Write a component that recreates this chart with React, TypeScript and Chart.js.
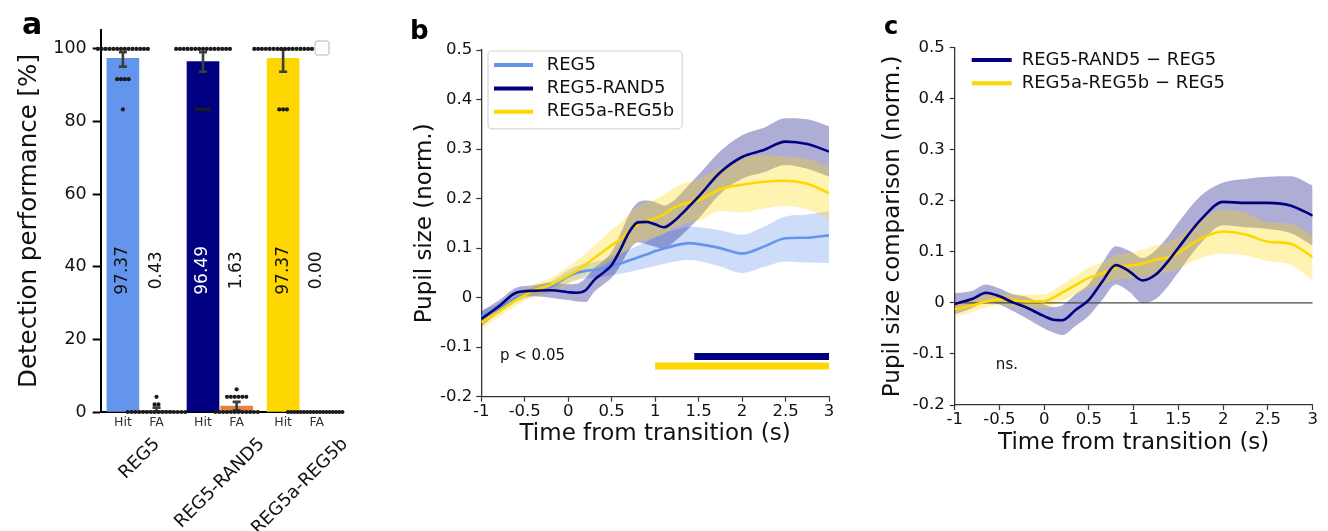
import React, { useEffect, useRef } from 'react';
import { Chart, registerables } from 'chart.js';

Chart.register(...registerables);

const FONT = "'DejaVu Sans', 'Liberation Sans', Arial, sans-serif";
Chart.defaults.font.family = FONT;
Chart.defaults.color = '#111';

// ---------------- Panel a : detection performance ----------------
const GROUPS = ['REG5', 'REG5-RAND5', 'REG5a-REG5b'];
const MEASURE_LABELS = ['Hit', 'FA'];
const HIT_MEAN = [97.37, 96.49, 97.37];
const FA_MEAN = [0.43, 1.63, 0.0];
const HIT_CI_LOW = [95.1, 93.7, 93.7];
const HIT_CI_HIGH = [99.1, 99.1, 99.9];
const FA_CI_LOW = [0.0, 0.5, 0.0];
const FA_CI_HIGH = [1.2, 2.8, 0.0];
const HIT_REG5 = [100, 100, 100, 100, 100, 100, 100, 100, 100, 100, 100, 100, 100, 100, 91.67, 91.67, 91.67, 91.67, 83.33];
const HIT_REG5_RAND5 = [100, 100, 100, 100, 100, 100, 100, 100, 100, 100, 100, 100, 100, 100, 100, 83.33, 83.33, 83.33, 83.33];
const HIT_REG5A_REG5B = [100, 100, 100, 100, 100, 100, 100, 100, 100, 100, 100, 100, 100, 100, 100, 100, 83.33, 83.33, 83.33];
const FA_REG5 = [4.17, 2.08, 2.08, 0, 0, 0, 0, 0, 0, 0, 0, 0, 0, 0, 0, 0, 0, 0, 0];
const FA_REG5_RAND5 = [6.25, 4.17, 4.17, 4.17, 4.17, 4.17, 4.17, 0, 0, 0, 0, 0, 0, 0, 0, 0, 0, 0, 0];
const FA_REG5A_REG5B = [0, 0, 0, 0, 0, 0, 0, 0, 0, 0, 0, 0, 0, 0, 0, 0, 0, 0, 0];
const HIT_SUBJECTS = [HIT_REG5, HIT_REG5_RAND5, HIT_REG5A_REG5B];
const FA_SUBJECTS = [FA_REG5, FA_REG5_RAND5, FA_REG5A_REG5B];
const A_Y_TICKS = [0, 20, 40, 60, 80, 100];

// ---------------- Panel b : pupil size ----------------
const B_X = [-1, -0.8, -0.6, -0.4, -0.2, 0, 0.1, 0.2, 0.3, 0.4, 0.5, 0.6, 0.7, 0.8, 0.9, 1, 1.1, 1.2, 1.3, 1.4, 1.5, 1.75, 2, 2.25, 2.5, 2.75, 3];
const B_REG5 = [-0.038, -0.022, 0.0, 0.012, 0.022, 0.043, 0.05, 0.054, 0.056, 0.059, 0.064, 0.069, 0.075, 0.081, 0.087, 0.094, 0.099, 0.104, 0.108, 0.11, 0.108, 0.1, 0.089, 0.103, 0.12, 0.121, 0.126];
const B_REG5_LO = [-0.05, -0.032, -0.009, 0.003, 0.011, 0.03, 0.036, 0.039, 0.04, 0.042, 0.045, 0.048, 0.052, 0.056, 0.06, 0.064, 0.068, 0.072, 0.075, 0.076, 0.074, 0.063, 0.05, 0.062, 0.073, 0.071, 0.07];
const B_REG5_HI = [-0.026, -0.012, 0.009, 0.021, 0.033, 0.056, 0.064, 0.069, 0.072, 0.076, 0.083, 0.09, 0.097, 0.105, 0.113, 0.122, 0.13, 0.136, 0.14, 0.143, 0.142, 0.136, 0.127, 0.143, 0.164, 0.168, 0.175];
const B_RAND = [-0.043, -0.018, 0.01, 0.014, 0.015, 0.011, 0.01, 0.015, 0.036, 0.05, 0.066, 0.097, 0.132, 0.152, 0.153, 0.148, 0.142, 0.152, 0.168, 0.186, 0.204, 0.253, 0.284, 0.298, 0.315, 0.31, 0.295];
const B_RAND_LO = [-0.058, -0.03, 0.0, 0.003, 0.0, -0.005, -0.008, -0.009, 0.012, 0.026, 0.04, 0.065, 0.096, 0.112, 0.108, 0.103, 0.098, 0.11, 0.125, 0.142, 0.16, 0.21, 0.24, 0.253, 0.268, 0.26, 0.244];
const B_RAND_HI = [-0.028, -0.006, 0.02, 0.025, 0.03, 0.027, 0.028, 0.039, 0.06, 0.074, 0.092, 0.129, 0.168, 0.192, 0.196, 0.193, 0.186, 0.194, 0.211, 0.23, 0.248, 0.296, 0.328, 0.343, 0.362, 0.36, 0.346];
const B_AB = [-0.05, -0.028, -0.005, 0.014, 0.026, 0.045, 0.055, 0.067, 0.08, 0.093, 0.106, 0.118, 0.135, 0.148, 0.155, 0.16, 0.168, 0.18, 0.188, 0.193, 0.197, 0.219, 0.228, 0.234, 0.236, 0.23, 0.211];
const B_AB_LO = [-0.063, -0.04, -0.016, 0.002, 0.012, 0.027, 0.035, 0.045, 0.055, 0.066, 0.075, 0.086, 0.1, 0.112, 0.118, 0.122, 0.128, 0.14, 0.147, 0.152, 0.155, 0.175, 0.172, 0.18, 0.185, 0.178, 0.158];
const B_AB_HI = [-0.037, -0.016, 0.006, 0.026, 0.04, 0.063, 0.075, 0.089, 0.105, 0.12, 0.137, 0.15, 0.17, 0.184, 0.192, 0.198, 0.208, 0.22, 0.229, 0.234, 0.239, 0.263, 0.282, 0.288, 0.285, 0.28, 0.264];
const B_SIG_RAND = [1.45, 3];
const B_SIG_RAND_Y = -0.119;
const B_SIG_AB = [1.0, 3];
const B_SIG_AB_Y = -0.138;
const B_LEGEND = ['REG5', 'REG5-RAND5', 'REG5a-REG5b'];
const Y_TICKS = [-0.2, -0.1, 0, 0.1, 0.2, 0.3, 0.4, 0.5];
const Y_LABELS = ['-0.2', '-0.1', '0', '0.1', '0.2', '0.3', '0.4', '0.5'];
const X_TICKS = [-1, -0.5, 0, 0.5, 1, 1.5, 2, 2.5, 3];
const X_LABELS = ['-1', '-0.5', '0', '0.5', '1', '1.5', '2', '2.5', '3'];

// ---------------- Panel c : comparison ----------------
const C_X = [-1, -0.8, -0.65, -0.5, -0.35, -0.2, 0, 0.1, 0.2, 0.35, 0.5, 0.65, 0.8, 0.95, 1.1, 1.25, 1.4, 1.5, 1.75, 2, 2.25, 2.5, 2.75, 3];
const C_RAND = [-0.002, 0.008, 0.02, 0.013, 0.001, -0.009, -0.026, -0.033, -0.034, -0.014, 0.006, 0.042, 0.074, 0.062, 0.044, 0.056, 0.085, 0.108, 0.163, 0.198, 0.196, 0.196, 0.191, 0.171];
const C_RAND_LO = [-0.022, -0.01, 0.003, -0.003, -0.016, -0.03, -0.05, -0.058, -0.063, -0.045, -0.025, 0.006, 0.036, 0.022, 0.0, 0.008, 0.036, 0.06, 0.117, 0.152, 0.148, 0.145, 0.137, 0.112];
const C_RAND_HI = [0.019, 0.024, 0.036, 0.028, 0.017, 0.012, -0.003, -0.008, -0.005, 0.017, 0.037, 0.078, 0.111, 0.102, 0.088, 0.104, 0.134, 0.158, 0.21, 0.236, 0.243, 0.247, 0.248, 0.23];
const C_AB = [-0.012, -0.005, 0.003, 0.007, 0.005, 0.003, 0.003, 0.01, 0.02, 0.035, 0.049, 0.058, 0.07, 0.073, 0.077, 0.085, 0.09, 0.098, 0.126, 0.14, 0.134, 0.12, 0.116, 0.09];
const C_AB_LO = [-0.028, -0.018, -0.009, -0.004, -0.008, -0.01, -0.01, -0.004, 0.004, 0.017, 0.029, 0.036, 0.046, 0.048, 0.05, 0.056, 0.06, 0.067, 0.088, 0.097, 0.093, 0.082, 0.075, 0.045];
const C_AB_HI = [0.004, 0.008, 0.015, 0.018, 0.018, 0.016, 0.017, 0.025, 0.036, 0.053, 0.069, 0.08, 0.094, 0.098, 0.104, 0.113, 0.12, 0.13, 0.164, 0.183, 0.176, 0.158, 0.155, 0.132];
const C_ZERO_X = [-1, 3];
const C_ZERO = [0, 0];
const C_LEGEND = ['REG5-RAND5 \u2212 REG5', 'REG5a-REG5b \u2212 REG5'];

// ---------------- styles ----------------
const COL_REG5 = '#6495ED';
const COL_RAND = '#000080';
const COL_AB = '#FFD700';
const COL_FA = '#E5843C';
const FILL_REG5 = 'rgba(100,149,237,0.32)';
const FILL_RAND = 'rgba(0,0,128,0.32)';
const FILL_AB = 'rgba(255,215,0,0.3)';
const GROUP_COLORS = [COL_REG5, COL_RAND, COL_AB];
const HIT_TEXT_COLORS = ['#111', '#fff', '#111'];
const FA_OFFSET = 0.42;
const SWARM_STEP = 0.048;
const SWARM_MAX_HALF = 0.36;
const VALUE_LABEL_Y = 39;

const pts = (xs: number[], ys: number[]) => xs.map((x, i) => ({ x, y: ys[i] }));

function swarm(values: number[], center: number) {
  const counts = new Map<number, number>();
  values.forEach((v) => counts.set(v, (counts.get(v) || 0) + 1));
  const out: { x: number; y: number }[] = [];
  counts.forEach((n, v) => {
    const step = n > 1 ? Math.min(SWARM_STEP, (2 * SWARM_MAX_HALF) / (n - 1)) : 0;
    for (let k = 0; k < n; k++) out.push({ x: center + (k - (n - 1) / 2) * step, y: v });
  });
  return out;
}

function drawLetter(ctx: CanvasRenderingContext2D, t: string, size: number, x: number, y: number) {
  ctx.save();
  ctx.font = `bold ${size}px ${FONT}`;
  ctx.fillStyle = '#000';
  ctx.textAlign = 'left';
  ctx.textBaseline = 'alphabetic';
  ctx.fillText(t, x, y);
  ctx.restore();
}

function roundRect(ctx: any, x: number, y: number, w: number, h: number, r: number) {
  ctx.beginPath();
  if (ctx.roundRect) ctx.roundRect(x, y, w, h, r);
  else ctx.rect(x, y, w, h);
}

function drawLegend(chart: any, items: { label: string; color: string }[], o: any) {
  const { ctx, chartArea: a } = chart;
  ctx.save();
  ctx.font = `18px ${FONT}`;
  const maxW = Math.max(...items.map((it) => ctx.measureText(it.label).width));
  const boxL = a.left + o.dx;
  const boxT = a.top + o.dy;
  if (o.frame) {
    const w = o.padL + o.lineLen + o.gap + maxW + o.padR;
    const h = o.padT + (items.length - 1) * o.rowH + o.padB;
    roundRect(ctx, boxL, boxT, w, h, 4);
    ctx.fillStyle = 'rgba(255,255,255,0.85)';
    ctx.fill();
    ctx.strokeStyle = '#d6d6d6';
    ctx.lineWidth = 1.2;
    ctx.stroke();
  }
  items.forEach((it, i) => {
    const y = boxT + o.padT + i * o.rowH;
    const x0 = boxL + o.padL;
    ctx.strokeStyle = it.color;
    ctx.lineWidth = 4;
    ctx.beginPath();
    ctx.moveTo(x0, y);
    ctx.lineTo(x0 + o.lineLen, y);
    ctx.stroke();
    ctx.fillStyle = '#111';
    ctx.textAlign = 'left';
    ctx.textBaseline = 'middle';
    ctx.fillText(it.label, x0 + o.lineLen + o.gap, y);
  });
  ctx.restore();
}

function setTicks(values: number[]) {
  return (scale: any) => {
    scale.ticks = values.map((v) => ({ value: v }));
  };
}

// ---------- config a ----------
function configA(): any {
  const barData: any[] = [];
  const barColors: string[] = [];
  const dots: any[] = [];
  const tickPos: number[] = [];
  GROUPS.forEach((_, i) => {
    barData.push({ x: i, y: HIT_MEAN[i] });
    barColors.push(GROUP_COLORS[i]);
    barData.push({ x: i + FA_OFFSET, y: FA_MEAN[i] });
    barColors.push(COL_FA);
    dots.push(...swarm(HIT_SUBJECTS[i], i));
    dots.push(...swarm(FA_SUBJECTS[i], i + FA_OFFSET));
    tickPos.push(i, i + FA_OFFSET);
  });

  const plugin = {
    id: 'panelA',
    afterDatasetDraw(chart: any, args: any) {
      if (args.index !== 0) return;
      const { ctx } = chart;
      const xs = chart.scales.x;
      const ys = chart.scales.y;
      ctx.save();
      ctx.strokeStyle = '#3d3d3d';
      ctx.lineWidth = 2.6;
      GROUPS.forEach((_, i) => {
        [
          [i, HIT_CI_LOW[i], HIT_CI_HIGH[i]],
          [i + FA_OFFSET, FA_CI_LOW[i], FA_CI_HIGH[i]],
        ].forEach(([pos, lo, hi]) => {
          if (hi <= lo) return;
          const px = xs.getPixelForValue(pos);
          const y0 = ys.getPixelForValue(lo);
          const y1 = ys.getPixelForValue(hi);
          ctx.beginPath();
          ctx.moveTo(px, y0);
          ctx.lineTo(px, y1);
          ctx.moveTo(px - 4, y0);
          ctx.lineTo(px + 4, y0);
          ctx.moveTo(px - 4, y1);
          ctx.lineTo(px + 4, y1);
          ctx.stroke();
        });
      });
      ctx.restore();
    },
    afterDraw(chart: any) {
      const { ctx, chartArea } = chart;
      const xs = chart.scales.x;
      const ys = chart.scales.y;
      ctx.save();
      // value labels
      ctx.font = `17px ${FONT}`;
      ctx.textAlign = 'center';
      ctx.textBaseline = 'middle';
      GROUPS.forEach((_, i) => {
        const items: [number, number, string][] = [
          [i, HIT_MEAN[i], HIT_TEXT_COLORS[i]],
          [i + FA_OFFSET, FA_MEAN[i], '#111'],
        ];
        items.forEach(([pos, v, col]) => {
          ctx.save();
          ctx.translate(xs.getPixelForValue(pos), ys.getPixelForValue(VALUE_LABEL_Y));
          ctx.rotate(-Math.PI / 2);
          ctx.fillStyle = col;
          ctx.fillText(v.toFixed(2), 0, 0);
          ctx.restore();
        });
      });
      // group labels, rotated 45 degrees
      const gSize = 18;
      ctx.font = `${gSize}px ${FONT}`;
      ctx.fillStyle = '#111';
      GROUPS.forEach((g, i) => {
        const cx = xs.getPixelForValue(i + FA_OFFSET / 2);
        const w = ctx.measureText(g).width;
        const half = ((w + gSize) * Math.SQRT1_2) / 2;
        const cy = chartArea.bottom + 23 + half;
        ctx.save();
        ctx.translate(cx, cy);
        ctx.rotate(-Math.PI / 4);
        ctx.fillText(g, 0, 0);
        ctx.restore();
      });
      // empty legend frame
      roundRect(ctx, chartArea.right - 25, chartArea.top + 11, 14, 14, 3);
      ctx.fillStyle = '#fff';
      ctx.fill();
      ctx.strokeStyle = '#d0d0d0';
      ctx.lineWidth = 1.5;
      ctx.stroke();
      ctx.restore();
      drawLetter(ctx, 'a', 30, 22, 34);
    },
  };

  return {
    type: 'bar',
    data: {
      datasets: [
        {
          type: 'bar',
          data: barData,
          backgroundColor: barColors,
          barThickness: 32,
          grouped: false,
          order: 2,
        },
        {
          type: 'scatter',
          data: dots,
          pointRadius: 2.1,
          pointBackgroundColor: '#1b1b1b',
          pointBorderWidth: 0,
          clip: false,
          order: 1,
        },
      ],
    },
    options: {
      responsive: false,
      animation: false,
      events: [],
      layout: { padding: { left: 0, top: 30, right: 60, bottom: 0 } },
      plugins: { legend: { display: false }, tooltip: { enabled: false } },
      scales: {
        x: {
          type: 'linear',
          offset: false,
          min: -0.277,
          max: 2.71,
          afterBuildTicks: setTicks(tickPos),
          afterFit: (s: any) => {
            s.height = 119;
          },
          ticks: {
            callback: (_v: any, i: number) => MEASURE_LABELS[i % 2],
            font: { size: 12.5 },
            color: '#333',
            padding: 3,
            autoSkip: false,
            maxRotation: 0,
          },
          grid: { display: true, drawOnChartArea: false, drawTicks: false, offset: false },
          border: { display: true, color: '#000', width: 2 },
        },
        y: {
          min: 0,
          max: 105.2,
          afterBuildTicks: setTicks(A_Y_TICKS),
          afterFit: (s: any) => {
            s.width = 100.7;
          },
          ticks: { font: { size: 17.5 }, color: '#111', padding: 6, callback: (v: any) => String(v) },
          grid: { drawOnChartArea: false, tickLength: 8, tickColor: '#000', tickWidth: 2 },
          border: { display: true, color: '#000', width: 2 },
          title: {
            display: true,
            text: 'Detection performance [%]',
            font: { size: 24.5 },
            color: '#111',
            padding: { top: 15.3, bottom: 0 },
          },
        },
      },
    },
    plugins: [plugin],
  };
}

function lineDs(data: any[], color: string, order: number, width = 2.6) {
  return {
    type: 'line',
    data,
    borderColor: color,
    borderWidth: width,
    pointRadius: 0,
    fill: false,
    cubicInterpolationMode: 'monotone',
    order,
  };
}

function bandDs(upper: any[], lower: any[], fillColor: string, order: number) {
  return [
    {
      type: 'line',
      data: upper,
      borderColor: 'transparent',
      borderWidth: 0,
      backgroundColor: fillColor,
      pointRadius: 0,
      fill: '+1',
      cubicInterpolationMode: 'monotone',
      order,
    },
    {
      type: 'line',
      data: lower,
      borderColor: 'transparent',
      borderWidth: 0,
      pointRadius: 0,
      fill: false,
      cubicInterpolationMode: 'monotone',
      order: order + 1,
    },
  ];
}

function timeAxes(yLeftWidth: number, xHeight: number, yTitle: string, yTitlePad: number, xTitlePad: number, yLabPad: number) {
  return {
    x: {
      type: 'linear',
      min: -1,
      max: 3,
      afterBuildTicks: setTicks(X_TICKS),
      afterFit: (s: any) => {
        s.height = xHeight;
      },
      ticks: {
        callback: (_v: any, i: number) => X_LABELS[i],
        font: { size: 16.5 },
        color: '#111',
        padding: 0,
        autoSkip: false,
        maxRotation: 0,
      },
      grid: { drawOnChartArea: false, tickLength: 5, tickColor: '#333', tickWidth: 1.2 },
      border: { display: true, color: '#333', width: 1.3 },
      title: {
        display: true,
        text: 'Time from transition (s)',
        font: { size: 23 },
        color: '#111',
        padding: { top: 0, bottom: xTitlePad },
      },
    },
    y: {
      min: -0.2,
      max: 0.5,
      afterBuildTicks: setTicks(Y_TICKS),
      afterFit: (s: any) => {
        s.width = yLeftWidth;
      },
      ticks: {
        callback: (_v: any, i: number) => Y_LABELS[i],
        font: { size: 16.5 },
        color: '#111',
        padding: yLabPad,
      },
      grid: { drawOnChartArea: false, tickLength: 5, tickColor: '#333', tickWidth: 1.2 },
      border: { display: true, color: '#333', width: 1.3 },
      title: {
        display: true,
        text: yTitle,
        font: { size: 23 },
        color: '#111',
        padding: { top: yTitlePad, bottom: 0 },
      },
    },
  };
}

// ---------- config b ----------
function configB(): any {
  const plugin = {
    id: 'panelB',
    afterDraw(chart: any) {
      const { ctx } = chart;
      drawLegend(
        chart,
        B_LEGEND.map((label, i) => ({ label, color: [COL_REG5, COL_RAND, COL_AB][i] })),
        { dx: 6.7, dy: 1, padL: 6, lineLen: 39, gap: 13.7, padR: 8, padT: 14, padB: 17, rowH: 23.4, frame: true }
      );
      const xs = chart.scales.x;
      const ys = chart.scales.y;
      ctx.save();
      ctx.font = `15px ${FONT}`;
      ctx.fillStyle = '#111';
      ctx.textAlign = 'left';
      ctx.textBaseline = 'middle';
      ctx.fillText('p < 0.05', xs.getPixelForValue(-0.785), ys.getPixelForValue(-0.118));
      ctx.restore();
      drawLetter(ctx, 'b', 26, 10, 39);
    },
  };
  return {
    type: 'line',
    data: {
      datasets: [
        lineDs(pts(B_X, B_RAND), COL_RAND, 1),
        lineDs(pts(B_X, B_AB), COL_AB, 2),
        lineDs(pts(B_X, B_REG5), COL_REG5, 3),
        { type: 'line', data: pts(B_SIG_RAND, [B_SIG_RAND_Y, B_SIG_RAND_Y]), borderColor: COL_RAND, borderWidth: 7, borderCapStyle: 'butt', pointRadius: 0, fill: false, order: 0 },
        { type: 'line', data: pts(B_SIG_AB, [B_SIG_AB_Y, B_SIG_AB_Y]), borderColor: COL_AB, borderWidth: 7, borderCapStyle: 'butt', pointRadius: 0, fill: false, order: 0 },
        ...bandDs(pts(B_X, B_AB_HI), pts(B_X, B_AB_LO), FILL_AB, 10),
        ...bandDs(pts(B_X, B_RAND_HI), pts(B_X, B_RAND_LO), FILL_RAND, 20),
        ...bandDs(pts(B_X, B_REG5_HI), pts(B_X, B_REG5_LO), FILL_REG5, 30),
      ],
    },
    options: {
      responsive: false,
      animation: false,
      events: [],
      layout: { padding: { left: 0, top: 50, right: 31, bottom: 0 } },
      plugins: { legend: { display: false }, tooltip: { enabled: false }, filler: { drawTime: 'beforeDatasetsDraw' } },
      scales: timeAxes(81.3, 134.3, 'Pupil size (norm.)', 11.2, 83.2, 4),
    },
    plugins: [plugin],
  };
}

// ---------- config c ----------
function configC(): any {
  const plugin = {
    id: 'panelC',
    afterDraw(chart: any) {
      const { ctx } = chart;
      drawLegend(
        chart,
        C_LEGEND.map((label, i) => ({ label, color: [COL_RAND, COL_AB][i] })),
        { dx: 17, dy: 12.3, padL: 0, lineLen: 40, gap: 10, padR: 0, padT: 0, padB: 0, rowH: 23.3, frame: false }
      );
      const xs = chart.scales.x;
      const ys = chart.scales.y;
      ctx.save();
      ctx.font = `15px ${FONT}`;
      ctx.fillStyle = '#111';
      ctx.textAlign = 'left';
      ctx.textBaseline = 'middle';
      ctx.fillText('ns.', xs.getPixelForValue(-0.54), ys.getPixelForValue(-0.121));
      ctx.restore();
      drawLetter(ctx, 'c', 24, 24, 34);
    },
  };
  return {
    type: 'line',
    data: {
      datasets: [
        lineDs(pts(C_X, C_RAND), COL_RAND, 1),
        lineDs(pts(C_X, C_AB), COL_AB, 2),
        lineDs(pts(C_ZERO_X, C_ZERO), '#4a4a4a', 5, 1.4),
        ...bandDs(pts(C_X, C_AB_HI), pts(C_X, C_AB_LO), FILL_AB, 10),
        ...bandDs(pts(C_X, C_RAND_HI), pts(C_X, C_RAND_LO), FILL_RAND, 20),
      ],
    },
    options: {
      responsive: false,
      animation: false,
      events: [],
      layout: { padding: { left: 0, top: 47.7, right: 15.3, bottom: 0 } },
      plugins: { legend: { display: false }, tooltip: { enabled: false }, filler: { drawTime: 'beforeDatasetsDraw' } },
      scales: timeAxes(94.7, 126, 'Pupil size comparison (norm.)', 19.2, 74.2, 5),
    },
    plugins: [plugin],
  };
}

export default function App() {
  const refA = useRef<HTMLCanvasElement>(null);
  const refB = useRef<HTMLCanvasElement>(null);
  const refC = useRef<HTMLCanvasElement>(null);

  useEffect(() => {
    const a = new Chart(refA.current as HTMLCanvasElement, configA());
    const b = new Chart(refB.current as HTMLCanvasElement, configB());
    const c = new Chart(refC.current as HTMLCanvasElement, configC());
    return () => {
      a.destroy();
      b.destroy();
      c.destroy();
    };
  }, []);

  return (
    <div style={{ position: 'absolute', left: 0, top: 0, width: 1328, height: 531, background: '#fff', overflow: 'hidden' }}>
      <canvas ref={refA} width={400} height={531} style={{ position: 'absolute', left: 0, top: 0 }} />
      <canvas ref={refB} width={460} height={531} style={{ position: 'absolute', left: 400, top: 0 }} />
      <canvas ref={refC} width={468} height={531} style={{ position: 'absolute', left: 860, top: 0 }} />
    </div>
  );
}
